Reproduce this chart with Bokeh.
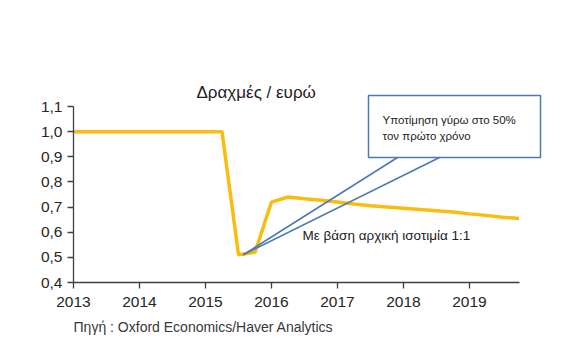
from bokeh.plotting import figure
from bokeh.models import Range1d, FixedTicker, CustomJSTickFormatter, Label, Title
from bokeh.embed import file_html
from bokeh.resources import INLINE

# quarterly dates (decimal years) and drachma/euro values
dates = [2013.0, 2013.25, 2013.5, 2013.75, 2014.0, 2014.25, 2014.5, 2014.75,
         2015.0, 2015.25, 2015.5, 2015.75, 2016.0, 2016.25, 2016.5, 2016.75,
         2017.0, 2017.25, 2017.5, 2017.75, 2018.0, 2018.25, 2018.5, 2018.75,
         2019.0, 2019.25, 2019.5, 2019.75]
rate = [1.0, 1.0, 1.0, 1.0, 1.0, 1.0, 1.0, 1.0,
        1.0, 1.0, 0.51, 0.52, 0.72, 0.74, 0.733, 0.727,
        0.72, 0.712, 0.705, 0.70, 0.695, 0.69, 0.685, 0.68,
        0.673, 0.667, 0.66, 0.655]
x_ticks = [2013, 2014, 2015, 2016, 2017, 2018, 2019]
y_ticks = [0.4, 0.5, 0.6, 0.7, 0.8, 0.9, 1.0, 1.1]

title_text = "Δραχμές / ευρώ"
box_text = ["Υποτίμηση γύρω στο 50%", "τον πρώτο χρόνο"]
note_text = "Με βάση αρχική ισοτιμία 1:1"
source_text = "Πηγή : Oxford Economics/Haver Analytics"

FONT = "Liberation Sans"
W, H = 581, 351
L, R, T, B = 73, 11, 40, 69
PX_PER_YEAR = 66.0
PX_PER_UNIT = 251.4
x0 = 2013.0
y0 = 0.4
x1 = x0 + (W - L - R) / PX_PER_YEAR
y1 = y0 + (H - T - B) / PX_PER_UNIT


def dx(px):
    return x0 + (px - L) / PX_PER_YEAR


def dy(py):
    return y0 + (H - B - py) / PX_PER_UNIT


p = figure(width=W, height=H, output_backend="svg", toolbar_location=None,
           x_range=Range1d(x0, x1), y_range=Range1d(y0, y1),
           min_border_left=L, min_border_right=R, min_border_top=T, min_border_bottom=B)
p.outline_line_color = None
p.xgrid.visible = False
p.ygrid.visible = False
p.background_fill_color = "white"
p.border_fill_color = "white"

# callout box and pointer
bx0, bx1, by0, by1 = dx(368), dx(540), dy(157), dy(95)
p.quad(left=[bx0], right=[bx1], bottom=[by0], top=[by1], fill_color="white",
       line_color="#4a7ab3", line_width=1.5)

# main line
p.line(dates, rate, line_color="#f8bd0e", line_width=3.5)

tip_x, tip_y = dates[10] + 0.07, rate[10]
p.segment(x0=[dx(397), dx(439)], y0=[by0, by0], x1=[tip_x, tip_x], y1=[tip_y, tip_y],
          line_color="#4a7ab3", line_width=1.6)

for txt, py in zip(box_text, [119, 135]):
    p.add_layout(Label(x=dx(382), y=dy(py), text=txt, text_font=FONT,
                       text_font_size="11.5px", text_baseline="middle", text_color="#222222"))

p.add_layout(Label(x=dx(302), y=dy(235), text=note_text, text_font=FONT,
                   text_font_size="13.5px", text_baseline="middle", text_color="#222222"))
p.add_layout(Label(x=dx(196), y=dy(92), text=title_text, text_font=FONT,
                   text_font_size="17px", text_baseline="middle", text_color="#222222"))

src = Title(text=source_text, align="left", text_font=FONT, text_font_size="14px",
            text_font_style="normal", text_color="#383838", offset=0, standoff=15)
p.add_layout(src, "below")

fmt = CustomJSTickFormatter(code="return tick.toFixed(1).replace('.', ',');")
for ax, ticks, bounds in [(p.xaxis[0], x_ticks, (x0, dates[-1])), (p.yaxis[0], y_ticks, (0.4, 1.1))]:
    ax.ticker = FixedTicker(ticks=ticks)
    ax.bounds = bounds
    ax.minor_tick_line_color = None
    ax.axis_line_color = "#404040"
    ax.major_tick_line_color = "#404040"
    ax.axis_line_width = 1.3
    ax.major_tick_line_width = 1.3
    ax.major_tick_in = 0
    ax.major_tick_out = 6
    ax.major_label_text_font = FONT
    ax.major_label_text_font_size = "15.5px"
    ax.major_label_text_color = "#262626"
p.yaxis[0].formatter = fmt
p.yaxis[0].major_label_standoff = 5
p.xaxis[0].major_label_standoff = 8

open("out.html", "w").write(file_html(p, INLINE))
